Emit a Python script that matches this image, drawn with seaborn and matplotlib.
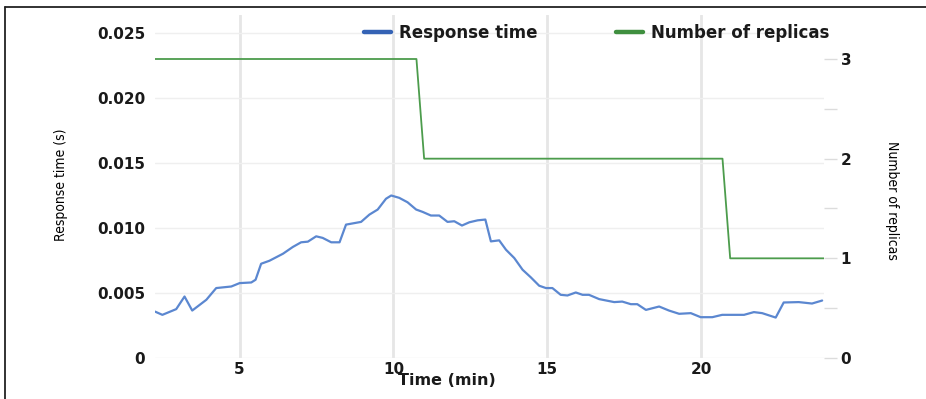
import matplotlib
matplotlib.use("Agg")
import matplotlib.pyplot as plt
from matplotlib.lines import Line2D
from matplotlib.ticker import MultipleLocator, FixedLocator
import numpy as np
import pandas as pd
import seaborn as sns

# Response time over the run (minutes, seconds)
time_min = [2.25, 2.49, 2.94, 3.21, 3.46, 3.92, 4.24, 4.73, 5.00, 5.38, 5.52, 5.70,
            5.97, 6.41, 6.73, 7.00, 7.22, 7.49, 7.70, 7.98, 8.25, 8.46, 8.95, 9.22,
            9.49, 9.76, 9.93, 10.19, 10.46, 10.74, 10.95, 11.22, 11.49, 11.76, 11.98,
            12.23, 12.47, 12.74, 12.99, 13.17, 13.44, 13.66, 13.93, 14.20, 14.47,
            14.74, 14.96, 15.17, 15.44, 15.66, 15.93, 16.15, 16.36, 16.69, 17.18,
            17.44, 17.72, 17.93, 18.21, 18.64, 18.96, 19.29, 19.67, 19.99, 20.37,
            20.69, 21.40, 21.72, 21.99, 22.43, 22.69, 23.18, 23.61, 23.94]
response_s = [0.00357, 0.00332, 0.00376, 0.00473, 0.00365, 0.00448, 0.00538, 0.00550,
              0.00576, 0.00581, 0.00602, 0.00725, 0.00748, 0.00802, 0.00854, 0.00890,
              0.00895, 0.00936, 0.00924, 0.00890, 0.00890, 0.01026, 0.01047, 0.01103,
              0.01142, 0.01225, 0.01250, 0.01232, 0.01198, 0.01142, 0.01124, 0.01096,
              0.01096, 0.01047, 0.01052, 0.01019, 0.01044, 0.01059, 0.01065, 0.00897,
              0.00905, 0.00833, 0.00769, 0.00679, 0.00620, 0.00556, 0.00538, 0.00538,
              0.00486, 0.00481, 0.00504, 0.00486, 0.00486, 0.00453, 0.00430, 0.00434,
              0.00414, 0.00414, 0.00370, 0.00396, 0.00365, 0.00340, 0.00345, 0.00314,
              0.00314, 0.00332, 0.00332, 0.00353, 0.00345, 0.00311, 0.00427, 0.00430,
              0.00419, 0.00442]

# Number of replicas (scale-down steps)
replica_time = [2.25, 10.75, 11.0, 20.7, 20.95, 24.0]
replicas = [3, 3, 2, 2, 1, 1]

x_ticks = [5, 10, 15, 20]
left_ticks = [0, 0.005, 0.010, 0.015, 0.020, 0.025]
left_labels = ["0", "0.005", "0.010", "0.015", "0.020", "0.025"]
right_ticks = [0, 1, 2, 3]

BLUE = "#5b87d0"
GREEN = "#4c9c4c"
BOLD_FONT = ["DejaVu Sans"]
NARROW_FONT = ["Liberation Sans Narrow", "DejaVu Sans"]

sns.set_theme(style="white")
plt.rcParams["font.family"] = BOLD_FONT

fig = plt.figure(figsize=(9.26, 3.99), dpi=100)
W, H = 926, 399
left_px, right_px, top_px, bottom_px = 155, 824, 15, 358
ax = fig.add_axes([left_px / W, 1 - bottom_px / H,
                   (right_px - left_px) / W, (bottom_px - top_px) / H])
ax2 = ax.twinx()

rt = pd.DataFrame({"time": time_min, "response": response_s})
rp = pd.DataFrame({"time": replica_time, "replicas": replicas})

sns.lineplot(data=rt, x="time", y="response", ax=ax, color=BLUE, lw=1.6)
sns.lineplot(data=rp, x="time", y="replicas", ax=ax2, color=GREEN, lw=1.3)

# Axis ranges: 0.025 and 3 replicas sit 18 px below the top of the plot area
px_per_unit_left = (bottom_px - 33) / 0.025
ax.set_xlim(2.25, 24)
ax.set_ylim(0, (bottom_px - top_px) / px_per_unit_left)
px_per_rep = (bottom_px - 59) / 3
ax2.set_ylim(0, (bottom_px - top_px) / px_per_rep)

# Grid
ax.set_axisbelow(True)
ax.yaxis.set_major_locator(FixedLocator(left_ticks))
ax.set_yticklabels(left_labels)
ax.xaxis.set_major_locator(FixedLocator(x_ticks))
ax.grid(axis="y", color="#efefef", lw=1.0)
ax.grid(axis="x", color="#e6e6e6", lw=2.0)
ax2.grid(False)

for a in (ax, ax2):
    for s in a.spines.values():
        s.set_visible(False)

ax.tick_params(axis="both", length=0, labelsize=11, labelcolor="#1a1a1a")
ax.tick_params(axis="y", pad=7)
ax.tick_params(axis="x", pad=3)
for lab in ax.get_xticklabels() + ax.get_yticklabels():
    lab.set_fontweight("bold")

ax2.yaxis.set_major_locator(FixedLocator(right_ticks))
ax2.yaxis.set_minor_locator(MultipleLocator(0.5))
ax2.tick_params(axis="y", which="both", length=9, width=1, color="#dcdcdc",
                pad=3, labelsize=11, labelcolor="#1a1a1a")
for lab in ax2.get_yticklabels():
    lab.set_fontweight("bold")

# Axis titles
ax.set_xlabel("Time (min)", fontsize=11.5, fontweight="bold", color="#1a1a1a")
ax.xaxis.set_label_coords((447 - left_px) / (right_px - left_px), -0.045)
ax.xaxis.label.set_va("top")

ax.set_ylabel("Response time (s)", fontsize=10, family=NARROW_FONT,
              fontstretch="condensed", color="#000000")
ax.yaxis.set_label_coords((68 - left_px) / (right_px - left_px),
                          (bottom_px - 185) / (bottom_px - top_px))

ax2.set_ylabel("Number of replicas", fontsize=10, family=NARROW_FONT,
               fontstretch="condensed", color="#000000",
               rotation=-90, va="center", ha="center")
ax2.yaxis.set_label_coords((892 - left_px) / (right_px - left_px),
                           (bottom_px - 200) / (bottom_px - top_px))

# Legend entries across the top
legend_prop = dict(size=12, weight="bold")
entries = [
    (Line2D([], [], color="#3563b5", lw=3.2), "Response time", 364),
    (Line2D([], [], color="#3f8f3f", lw=3.2), "Number of replicas", 616),
]
for handle, text, x_px in entries:
    leg = fig.legend([handle], [text], loc="center left",
                     bbox_to_anchor=(x_px / W, 1 - 33 / H), frameon=False,
                     handlelength=1.6, handletextpad=0.5, borderpad=0,
                     borderaxespad=0, prop=legend_prop)
    for t in leg.get_texts():
        t.set_color("#1a1a1a")

# Outer frame (left and top edges)
fig.add_artist(Line2D([5 / W, 5 / W], [0, 1 - 7 / H], color="#222222", lw=1.3,
                      transform=fig.transFigure))
fig.add_artist(Line2D([5 / W, 1], [1 - 7 / H, 1 - 7 / H], color="#222222", lw=1.3,
                      transform=fig.transFigure))

fig.savefig("out.png", dpi=100)
